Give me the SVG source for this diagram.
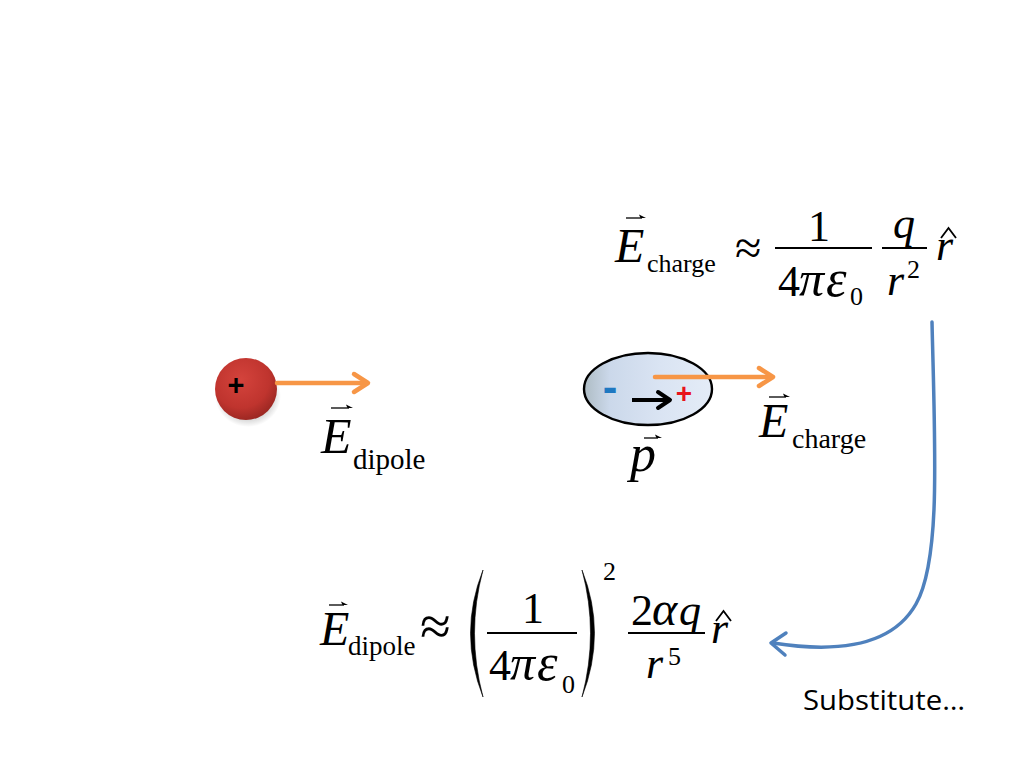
<svg xmlns="http://www.w3.org/2000/svg" width="1024" height="768" viewBox="0 0 1024 768">
<defs>
<radialGradient id="ball" cx="0.42" cy="0.35" r="0.7">
<stop offset="0" stop-color="#d4433c"/>
<stop offset="0.65" stop-color="#bf342e"/>
<stop offset="1" stop-color="#952520"/>
</radialGradient>
<radialGradient id="shadow" cx="0.5" cy="0.5" r="0.5">
<stop offset="0.6" stop-color="#000" stop-opacity="0.25"/>
<stop offset="1" stop-color="#000" stop-opacity="0"/>
</radialGradient>
<linearGradient id="ell" x1="0" y1="0" x2="1" y2="0">
<stop offset="0" stop-color="#aebcc4"/>
<stop offset="0.2" stop-color="#cbd8ea"/>
<stop offset="0.6" stop-color="#dae4f3"/>
<stop offset="1" stop-color="#e4ecf7"/>
</linearGradient>
</defs>
<style>
.ln{stroke:#000;stroke-width:2}
.vec{stroke:#000;stroke-width:1.3;fill:none}
.vh{fill:#000;stroke:none}
.hat{stroke:#000;stroke-width:1.8;fill:none;stroke-linejoin:miter}
.orange{stroke:#F79646;stroke-width:4.5;fill:none;stroke-linecap:round;stroke-linejoin:round}
.paren{fill:#000;stroke:#000;stroke-width:0.6}
</style>
<rect width="1024" height="768" fill="#fff"/>

<g id="formula-charge" font-family="Liberation Serif" fill="#000">
<text font-style="italic" font-size="48" x="615" y="262">E</text>
<line class="vec" x1="626" y1="218" x2="642" y2="218"/>
<path class="vh" d="M646,218 L639,214.5 L640.5,218 Z"/>
<text font-size="26" x="647" y="272">charge</text>
<text font-size="48" x="735" y="264">≈</text>
<text font-size="44" x="808" y="241">1</text>
<line class="ln" x1="775" y1="248" x2="872" y2="248"/>
<text font-size="44" x="778" y="296">4</text>
<text font-style="italic" font-size="50" x="799" y="296">π</text>
<text font-style="italic" font-size="52" x="826" y="296">ε</text>
<text font-size="26" x="850" y="305">0</text>
<text font-style="italic" font-size="44" x="893" y="238">q</text>
<line class="ln" x1="882" y1="248" x2="927" y2="248"/>
<text font-style="italic" font-size="44" x="887" y="295">r</text>
<text font-size="26" x="907" y="278">2</text>
<text font-style="italic" font-size="44" x="936" y="260">r</text>
<path class="hat" d="M941,238 L948.5,228 L956,238"/>
</g>

<g id="charge">
<ellipse cx="248" cy="396" rx="33" ry="31" fill="url(#shadow)"/>
<circle cx="246" cy="389" r="31" fill="url(#ball)"/>
<text x="236" y="395" font-family="Liberation Sans" font-size="29" font-weight="bold" text-anchor="middle" fill="#000">+</text>
</g>

<g id="label-edipole" font-family="Liberation Serif" fill="#000">
<text font-style="italic" font-size="50" x="321" y="453">E</text>
<line class="vec" x1="331" y1="408" x2="349" y2="408"/>
<path class="vh" d="M353,408 L346,404.5 L347.5,408 Z"/>
<text font-size="29" x="353" y="469">dipole</text>
</g>

<g id="dipole">
<ellipse cx="648" cy="389" rx="64" ry="36" fill="url(#ell)" stroke="#000" stroke-width="2.4"/>
<text x="610" y="402" font-family="Liberation Sans" font-size="44" font-weight="bold" text-anchor="middle" fill="#1f78c1">-</text>
<text x="684" y="403" font-family="Liberation Sans" font-size="28" font-weight="bold" text-anchor="middle" fill="#e8141b">+</text>
<path d="M632,400 L668,400" stroke="#000" stroke-width="4" fill="none"/>
<path d="M658,392 L670,400 L658,408" stroke="#000" stroke-width="4" fill="none" stroke-linecap="round" stroke-linejoin="round"/>
</g>

<g id="label-p" font-family="Liberation Serif" fill="#000">
<text font-style="italic" font-size="52" x="630" y="471">p</text>
<line class="vec" x1="644" y1="438" x2="658" y2="438"/>
<path class="vh" d="M662,438 L655,434.5 L656.5,438 Z"/>
</g>

<g id="label-echarge" font-family="Liberation Serif" fill="#000">
<text font-style="italic" font-size="48" x="759" y="437">E</text>
<line class="vec" x1="769" y1="397" x2="786" y2="397"/>
<path class="vh" d="M790,397 L783,393.5 L784.5,397 Z"/>
<text font-size="28" x="792" y="448">charge</text>
</g>

<g id="formula-dipole" font-family="Liberation Serif" fill="#000">
<text font-style="italic" font-size="48" x="320" y="645">E</text>
<line class="vec" x1="329" y1="605" x2="344" y2="605"/>
<path class="vh" d="M348,605 L341,601.5 L342.5,605 Z"/>
<text font-size="27" x="348" y="655">dipole</text>
<text font-size="56" x="420" y="645">≈</text>
<path class="paren" d="M483,570 Q458,633 483,697 Q466,633 483,570 Z"/>
<text font-size="44" x="522" y="623">1</text>
<line class="ln" x1="487" y1="633" x2="577" y2="633"/>
<text font-size="44" x="489" y="680">4</text>
<text font-style="italic" font-size="50" x="510" y="680">π</text>
<text font-style="italic" font-size="52" x="537" y="680">ε</text>
<text font-size="26" x="562" y="693">0</text>
<path class="paren" d="M582,570 Q607,633 582,697 Q599,633 582,570 Z"/>
<text font-size="26" x="603" y="580">2</text>
<text font-size="44" x="631" y="625">2</text>
<text font-style="italic" font-size="48" x="652" y="625">α</text>
<text font-style="italic" font-size="44" x="679" y="625">q</text>
<line class="ln" x1="628" y1="633" x2="705" y2="633"/>
<text font-style="italic" font-size="44" x="646" y="678">r</text>
<text font-size="26" x="668" y="665">5</text>
<text font-style="italic" font-size="44" x="711" y="643">r</text>
<path class="hat" d="M716,621 L723.5,611 L731,621"/>
</g>

<g id="connectors">
<path class="orange" d="M277,383 L366,383"/>
<path class="orange" d="M354,374 L368,383 L354,392"/>
<path class="orange" d="M655,377 L771,377"/>
<path class="orange" d="M759,368 L773,377 L759,386"/>
<path d="M932,322 C935,450 941,560 916,604 C890,650 830,652 773,643" fill="none" stroke="#4F81BD" stroke-width="3.5" stroke-linecap="round"/>
<path d="M786,633 L771,643 L785,655" fill="none" stroke="#4F81BD" stroke-width="3.5" stroke-linecap="round" stroke-linejoin="round"/>
</g>

<g id="label-substitute">
<text x="803" y="710" font-family="Open Sans" font-size="28" textLength="162" lengthAdjust="spacingAndGlyphs" fill="#000">Substitute…</text>
</g>
</svg>
